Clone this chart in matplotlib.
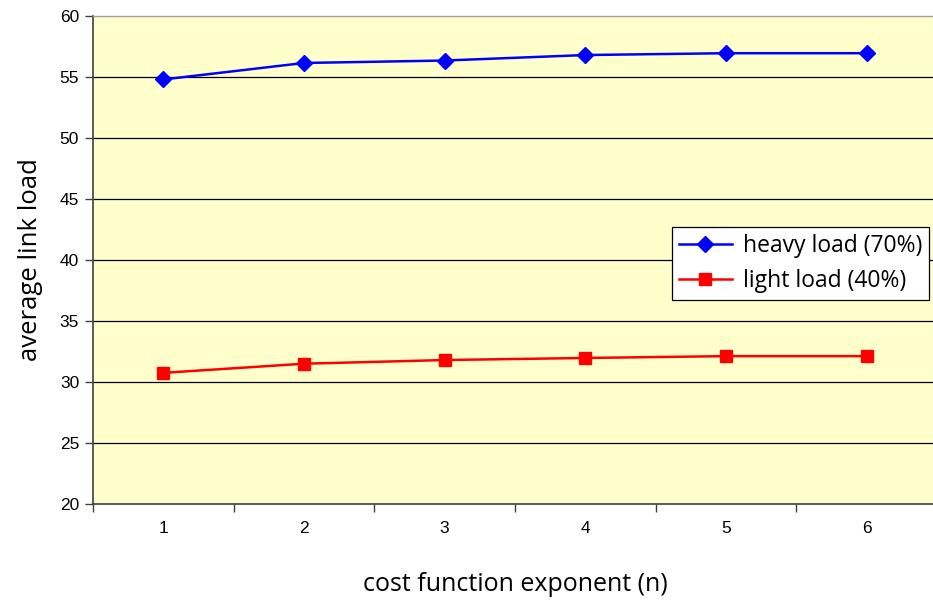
import matplotlib
matplotlib.use("Agg")
import matplotlib.pyplot as plt
from matplotlib.ticker import FixedLocator

exponents = [1, 2, 3, 4, 5, 6]
heavy = [54.8, 56.15, 56.35, 56.8, 56.95, 56.95]
light = [30.75, 31.5, 31.8, 31.97, 32.12, 32.12]
y_ticks = [20, 25, 30, 35, 40, 45, 50, 55, 60]

fig = plt.figure(figsize=(9.33, 6.02), dpi=100)
W, H = 933, 602
left, right, top, bottom = 93, 937, 16, 504
ax = fig.add_axes([left / W, 1 - bottom / H, (right - left) / W, (bottom - top) / H])
ax.set_facecolor("#FFFFCC")

for y in y_ticks[1:-1]:
    ax.axhline(y, color="#000000", lw=0.9, zorder=1)

ax.plot(exponents, heavy, color="#0000FF", lw=1.8, marker="D", ms=8,
        label="heavy load (70%)", zorder=3)
ax.plot(exponents, light, color="#FF0000", lw=1.8, marker="s", ms=8.5,
        label="light load (40%)", zorder=3)

ax.set_xlim(0.5, 6.5)
ax.set_ylim(20, 60)
ax.set_yticks(y_ticks)
ax.set_xticks(exponents)
ax.xaxis.set_minor_locator(FixedLocator([0.5 + i for i in range(7)]))
ax.tick_params(axis="x", which="major", length=0, pad=12)
ax.tick_params(axis="x", which="minor", length=6, width=1, color="#404040", direction="out")
ax.tick_params(axis="y", length=6, width=1, color="#404040", direction="out", pad=4)
for lab in ax.get_xticklabels() + ax.get_yticklabels():
    lab.set_fontfamily("Liberation Sans")
    lab.set_fontsize(12.5)

for s in ["left", "bottom"]:
    ax.spines[s].set_color("#404040")
    ax.spines[s].set_linewidth(1.2)
for s in ["top", "right"]:
    ax.spines[s].set_color("#A0A0A0")
    ax.spines[s].set_linewidth(1.0)

ax.set_ylabel("average link load", fontsize=18.5, family="Open Sans", labelpad=12)
ax.set_xlabel("cost function exponent (n)", fontsize=18, family="Open Sans", labelpad=26)

leg = ax.legend(loc="upper left", bbox_to_anchor=((672 - left) / (right - left), 1 - (227 - top) / (bottom - top)),
                frameon=True, fancybox=False, edgecolor="#000000", framealpha=1,
                prop={"family": "Open Sans", "size": 16.5}, handlelength=2.3, borderpad=0.3,
                labelspacing=0.5, handletextpad=0.5, borderaxespad=0)
leg.get_frame().set_linewidth(0.9)

fig.savefig("out.png", dpi=100)
